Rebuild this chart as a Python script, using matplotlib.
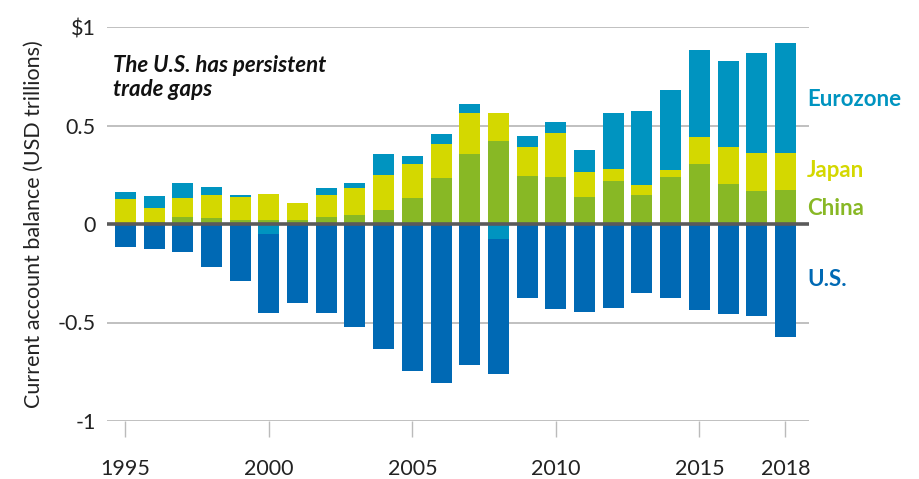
import numpy as np
import matplotlib
matplotlib.use('Agg')
from matplotlib import pyplot as plt

plt.rcParams['font.family'] = ['Lato', 'DejaVu Sans']

#%% data (USD trillions)
years = list(range(1995, 2019))
china = [0.003, 0.010, 0.036, 0.031, 0.021, 0.021, 0.018, 0.035, 0.046, 0.071,
         0.132, 0.234, 0.355, 0.421, 0.243, 0.237, 0.137, 0.218, 0.147, 0.240,
         0.305, 0.203, 0.167, 0.172]
japan = [0.124, 0.071, 0.096, 0.116, 0.116, 0.131, 0.089, 0.112, 0.137, 0.178,
         0.173, 0.172, 0.208, 0.142, 0.147, 0.225, 0.127, 0.061, 0.051, 0.034,
         0.137, 0.187, 0.193, 0.188]
euro = [0.035, 0.061, 0.076, 0.041, 0.010, -0.050, -0.006, 0.036, 0.025, 0.106,
        0.040, 0.051, 0.046, -0.076, 0.057, 0.056, 0.112, 0.284, 0.375, 0.406,
        0.442, 0.437, 0.508, 0.559]
us = [-0.117, -0.127, -0.142, -0.218, -0.290, -0.400, -0.395, -0.452, -0.523, -0.635,
      -0.745, -0.805, -0.715, -0.684, -0.375, -0.430, -0.447, -0.425, -0.350, -0.375,
      -0.435, -0.455, -0.465, -0.572]

xticks = [1995, 2000, 2005, 2010, 2015, 2018]
yticks = [-1, -0.5, 0, 0.5, 1]
ylabels = ['-1', '-0.5', '0', '0.5', '$1']

series = [('China', china, '#88b825'),
          ('Japan', japan, '#d4d800'),
          ('Eurozone', euro, '#0094c0'),
          ('U.S.', us, '#0069b4')]

fig = plt.figure(figsize=(9.19, 4.79), dpi=100)
ax = fig.add_axes([107/919, 58/479, 702/919, 394/479])

x = np.array(years)
pos = np.zeros(len(years))
neg = np.zeros(len(years))
for name, vals, col in series:
    v = np.array(vals)
    bottom = np.where(v >= 0, pos, neg)
    ax.bar(x, v, width=0.73, bottom=bottom, color=col, zorder=2)
    pos = pos + np.where(v >= 0, v, 0)
    neg = neg + np.where(v < 0, v, 0)

for yv in [1, 0.5, -0.5, -1]:
    ax.axhline(yv, color='#bbbbbb', lw=1.3, zorder=1)
ax.axhline(0, color='#5a5a5a', lw=2.6, zorder=3)

ax.set_xlim(1994.36, 2018.82)
ax.set_ylim(-1.0, 1.0)
for s in ax.spines.values():
    s.set_visible(False)

ax.set_xticks(xticks)
ax.set_xticklabels([str(t) for t in xticks], fontsize=15.5, color='#222222')
ax.tick_params(axis='x', length=11.5, width=1, color='#bbbbbb', pad=16)
ax.set_yticks(yticks)
ax.set_yticklabels(ylabels, fontsize=15.5, color='#222222')
ax.tick_params(axis='y', length=0, pad=8)
ax.set_ylabel('Current account balance (USD trillions)', fontsize=15.5,
              color='#222222', labelpad=10)

ax.text(0.008, 0.872, 'The U.S. has persistent\ntrade gaps', transform=ax.transAxes,
        fontsize=16, fontweight='bold', style='italic', color='#111111',
        va='center', ha='left', linespacing=1.2)

# series labels on right
lab_y = {'Eurozone': 0.63, 'Japan': 0.27, 'China': 0.08, 'U.S.': -0.28}
for name, vals, col in series:
    ax.text(0.997, lab_y[name], name, transform=ax.get_yaxis_transform(),
            fontsize=16, fontweight='bold', color=col, va='center', ha='left')

plt.savefig('out.png', dpi=100)
